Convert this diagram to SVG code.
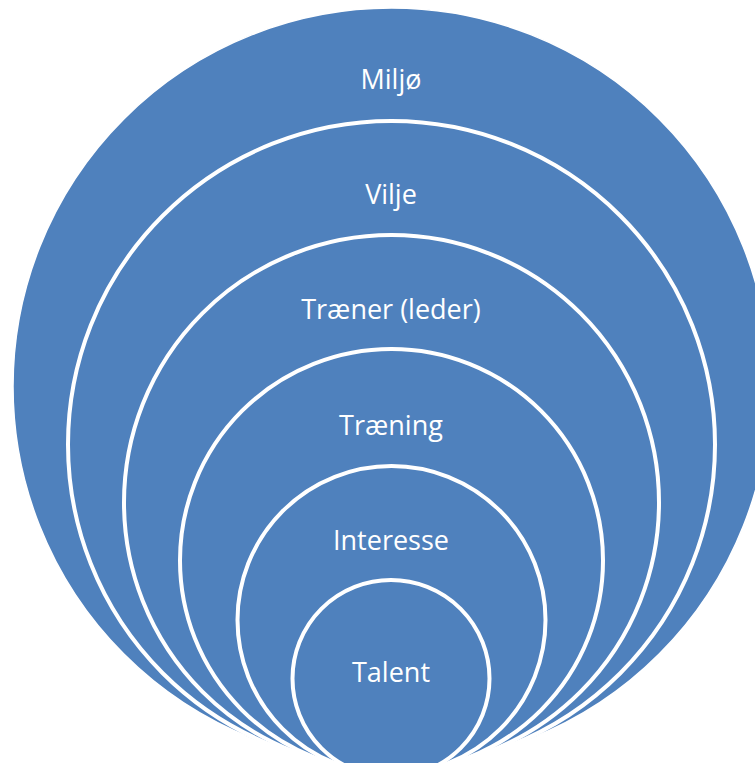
<svg xmlns="http://www.w3.org/2000/svg" width="755" height="763" viewBox="0 0 755 763">
<style>
.c{fill:#4F81BD;stroke:#FFFFFF;stroke-width:4}
.t{fill:#FFFFFF;font-family:"Open Sans","Liberation Sans",sans-serif;font-size:27px;text-anchor:middle}
</style>
<rect width="755" height="763" fill="#FFFFFF"/>
<g id="miljo"><circle class="c" cx="391.5" cy="386.5" r="378.5" style="stroke-width:1.5"/><text class="t" x="391" y="89">Miljø</text></g>
<g id="vilje"><circle class="c" cx="391.5" cy="444.5" r="323.5"/><text class="t" x="391" y="204">Vilje</text></g>
<g id="trener"><circle class="c" cx="391.5" cy="502.5" r="267.5"/><text class="t" x="391" y="319">Træner (leder)</text></g>
<g id="trening"><circle class="c" cx="391.5" cy="560.5" r="211.5"/><text class="t" x="391" y="435">Træning</text></g>
<g id="interesse"><circle class="c" cx="391.5" cy="620" r="154"/><text class="t" x="391" y="550">Interesse</text></g>
<g id="talent"><circle class="c" cx="391" cy="678.5" r="98.5"/><text class="t" x="391" y="682">Talent</text></g>
<g id="connectors"/>
</svg>
